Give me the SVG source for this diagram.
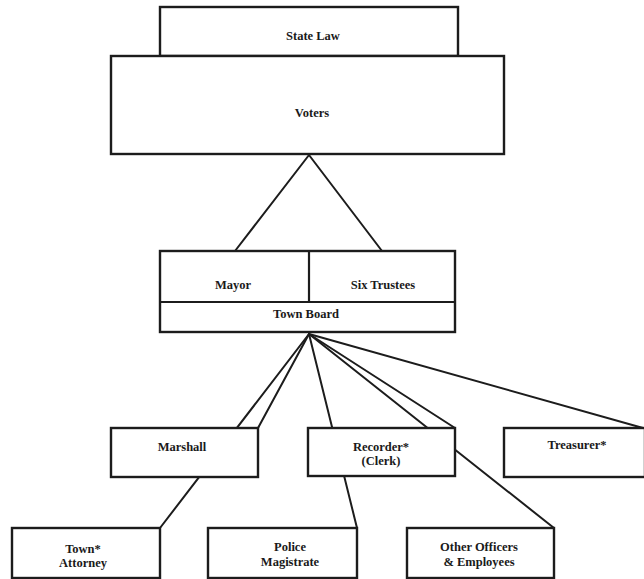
<svg xmlns="http://www.w3.org/2000/svg" width="644" height="579" viewBox="0 0 644 579">
  <style>
    .box { fill: #ffffff; stroke: #1c1c1c; stroke-width: 2.4; }
    .div { stroke: #1c1c1c; stroke-width: 2.2; fill: none; }
    .link { stroke: #1c1c1c; stroke-width: 2; fill: none; stroke-linecap: round; }
    text { font-family: "Liberation Serif", "Times New Roman", serif; font-weight: bold; font-size: 12.5px; fill: #1a1a1a; text-anchor: middle; }
  </style>
  <rect width="644" height="579" fill="#ffffff"/>

  <!-- connectors (drawn first so the boxes mask the parts that pass behind them) -->
  <g id="connectors">
    <line class="link" x1="309" y1="155" x2="235" y2="251"/>
    <line class="link" x1="309" y1="155" x2="382" y2="251"/>
    <line class="link" x1="309" y1="334" x2="258" y2="428"/>
    <line class="link" x1="309" y1="334" x2="160" y2="528"/>
    <line class="link" x1="309" y1="334" x2="357" y2="528"/>
    <line class="link" x1="309" y1="334" x2="455" y2="428"/>
    <line class="link" x1="309" y1="334" x2="554" y2="528"/>
    <line class="link" x1="309" y1="334" x2="643" y2="428"/>
  </g>

  <g id="state-law">
    <rect class="box" x="160" y="7" width="298" height="49"/>
    <text x="313" y="40">State Law</text>
  </g>

  <g id="voters">
    <rect class="box" x="111" y="56" width="393" height="98"/>
    <text x="312" y="117">Voters</text>
  </g>

  <g id="town-board">
    <rect class="box" x="160" y="251" width="295" height="81"/>
    <line class="div" x1="160" y1="302" x2="455" y2="302"/>
    <line class="div" x1="309" y1="251" x2="309" y2="302"/>
    <text x="233" y="289">Mayor</text>
    <text x="383" y="289">Six Trustees</text>
    <text x="306" y="318">Town Board</text>
  </g>

  <g id="marshall">
    <rect class="box" x="111" y="428" width="147" height="49"/>
    <text x="182" y="451">Marshall</text>
  </g>

  <g id="recorder">
    <rect class="box" x="308" y="428" width="147" height="48"/>
    <text x="381" y="451">Recorder*</text>
    <text x="381" y="465">(Clerk)</text>
  </g>

  <g id="treasurer">
    <rect class="box" x="504" y="428" width="141" height="49"/>
    <text x="577" y="449">Treasurer*</text>
  </g>

  <g id="town-attorney">
    <rect class="box" x="12" y="528" width="148" height="50"/>
    <text x="83" y="553">Town*</text>
    <text x="83" y="567">Attorney</text>
  </g>

  <g id="police-magistrate">
    <rect class="box" x="208" y="528" width="149" height="50"/>
    <text x="290" y="551">Police</text>
    <text x="290" y="566">Magistrate</text>
  </g>

  <g id="other-officers">
    <rect class="box" x="407" y="528" width="147" height="50"/>
    <text x="479" y="551">Other Officers</text>
    <text x="479" y="566">&amp; Employees</text>
  </g>
</svg>
